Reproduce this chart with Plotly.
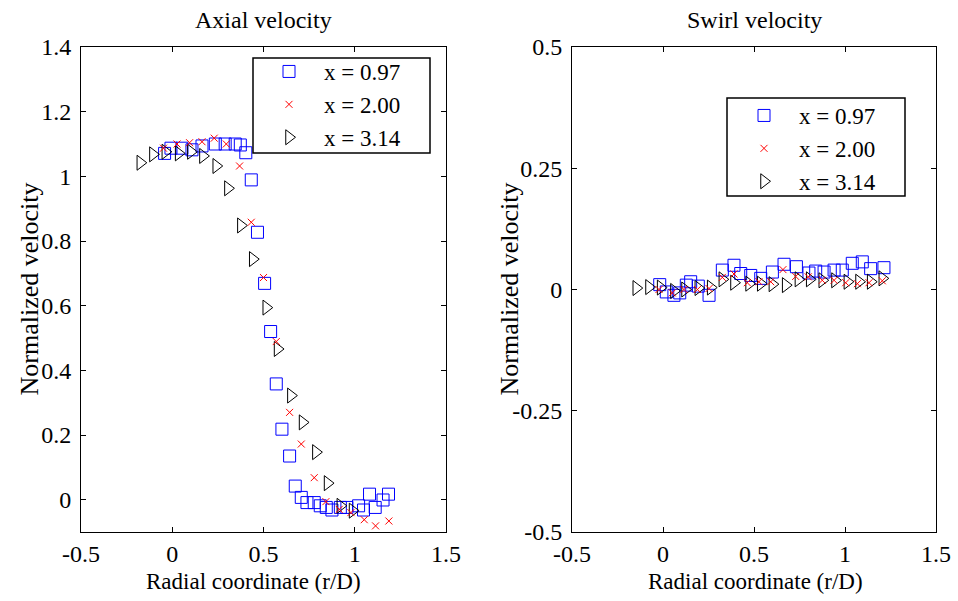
import plotly.graph_objects as go

# ---------------- data ----------------
# Axial velocity (left panel)
ax_r_097 = [-0.042, -0.007, 0.053, 0.108, 0.163, 0.236, 0.290, 0.345, 0.373, 0.403, 0.433, 0.467,
            0.506, 0.539, 0.570, 0.601, 0.643, 0.674, 0.707, 0.738, 0.778, 0.811, 0.844, 0.875,
            0.921, 0.957, 1.021, 1.048, 1.081, 1.112, 1.155, 1.185]
ax_v_097 = [1.071, 1.087, 1.087, 1.082, 1.094, 1.100, 1.100, 1.100, 1.097, 1.073, 0.989, 0.827,
            0.669, 0.520, 0.358, 0.218, 0.135, 0.042, 0.007, -0.009, -0.009, -0.019, -0.024, -0.032,
            -0.024, -0.024, -0.019, -0.032, 0.017, -0.024, -0.001, 0.017]

ax_r_200 = [-0.048, 0.026, 0.095, 0.163, 0.230, 0.296, 0.369, 0.433, 0.500, 0.570, 0.643, 0.707,
            0.778, 0.842, 0.915, 0.979, 1.052, 1.114, 1.187]
ax_v_200 = [1.087, 1.100, 1.104, 1.107, 1.118, 1.100, 1.032, 0.858, 0.687, 0.489, 0.270, 0.172,
            0.068, -0.006, -0.030, -0.040, -0.062, -0.081, -0.066]

ax_r_314 = [-0.175, -0.106, -0.038, 0.035, 0.102, 0.168, 0.241, 0.305, 0.376, 0.441, 0.515, 0.577,
            0.650, 0.714, 0.787, 0.851, 0.921, 0.988]
ax_v_314 = [1.042, 1.068, 1.076, 1.071, 1.076, 1.063, 1.032, 0.963, 0.848, 0.744, 0.594, 0.466,
            0.322, 0.239, 0.147, 0.051, -0.019, -0.034]

# Swirl velocity (right panel)
sw_r_097 = [-0.018, 0.018, 0.060, 0.092, 0.128, 0.152, 0.194, 0.253, 0.326, 0.390, 0.427, 0.482,
            0.537, 0.601, 0.665, 0.733, 0.802, 0.839, 0.885, 0.940, 0.985, 1.040, 1.095, 1.141, 1.214]
sw_v_097 = [0.010, -0.005, -0.012, -0.007, 0.009, 0.016, 0.007, -0.012, 0.040, 0.050, 0.033, 0.029,
            0.023, 0.036, 0.052, 0.047, 0.034, 0.038, 0.036, 0.040, 0.040, 0.054, 0.057, 0.043, 0.045]

sw_r_200 = [-0.022, 0.051, 0.115, 0.189, 0.253, 0.326, 0.390, 0.463, 0.527, 0.592, 0.659, 0.729,
            0.798, 0.875, 0.940, 1.004, 1.068, 1.132, 1.205]
sw_v_200 = [0.000, -0.007, 0.000, 0.000, 0.002, 0.025, 0.032, 0.014, 0.016, 0.016, 0.041, 0.027,
            0.026, 0.019, 0.019, 0.014, 0.012, 0.014, 0.018]

sw_r_314 = [-0.147, -0.077, -0.013, 0.060, 0.121, 0.194, 0.262, 0.326, 0.390, 0.473, 0.537, 0.601,
            0.674, 0.744, 0.806, 0.875, 0.945, 1.013, 1.077, 1.141, 1.205]
sw_v_314 = [0.003, 0.005, 0.004, -0.003, 0.000, 0.003, 0.004, 0.021, 0.014, 0.012, 0.012, 0.011,
            0.009, 0.021, 0.021, 0.019, 0.019, 0.016, 0.016, 0.016, 0.023]

series_names = ["x = 0.97", "x = 2.00", "x = 3.14"]
x_tickvals = [-0.5, 0, 0.5, 1, 1.5]
x_ticktext = ["-0.5", "0", "0.5", "1", "1.5"]
ax_y_tickvals = [0, 0.2, 0.4, 0.6, 0.8, 1.0, 1.2, 1.4]
ax_y_ticktext = ["0", "0.2", "0.4", "0.6", "0.8", "1", "1.2", "1.4"]
sw_y_tickvals = [-0.5, -0.25, 0, 0.25, 0.5]
sw_y_ticktext = ["-0.5", "-0.25", "0", "0.25", "0.5"]

# ---------------- styles ----------------
FONT = "Liberation Serif, Times New Roman, serif"
FS_TICK = 24
FS_LEG = 23
FS_TITLE = 24
FS_XLAB = 23
FS_YLAB = 26
sq = dict(symbol="square-open", size=12, color="#0000ff", line=dict(width=1, color="#0000ff"))
xx = dict(symbol="x-thin-open", size=7, color="#ff0000", line=dict(width=1, color="#ff0000"))
tr = dict(symbol="triangle-right-open", size=13, color="#000000", line=dict(width=1, color="#000000"))

fig = go.Figure()

def add(xs, ys, name, marker, xa, ya, legend, rank):
    fig.add_trace(go.Scatter(x=xs, y=ys, mode="markers", name=name, marker=marker,
                             xaxis=xa, yaxis=ya, legend=legend, legendrank=rank))

add(ax_r_097, ax_v_097, series_names[0], sq, "x", "y", "legend", 1)
add(ax_r_314, ax_v_314, series_names[2], tr, "x", "y", "legend", 3)
add(ax_r_200, ax_v_200, series_names[1], xx, "x", "y", "legend", 2)
add(sw_r_097, sw_v_097, series_names[0], sq, "x2", "y2", "legend2", 1)
add(sw_r_314, sw_v_314, series_names[2], tr, "x2", "y2", "legend2", 3)
add(sw_r_200, sw_v_200, series_names[1], xx, "x2", "y2", "legend2", 2)

W, H = 958, 601
ML, MR, MT, MB = 0, 0, 47, 69
PH = H - MT - MB

def px(xp):
    return xp / W

def py(yp):
    return (H - MB - yp) / PH

axis_common = dict(showline=True, linecolor="black", linewidth=1, mirror="ticks",
                   ticks="inside", ticklen=5, tickcolor="black", showgrid=False, zeroline=False,
                   automargin=False,
                   tickfont=dict(family=FONT, size=FS_TICK, color="black"))

leg_common = dict(xanchor="left", yanchor="top", borderwidth=0, bgcolor="rgba(0,0,0,0)",
                  font=dict(family=FONT, size=FS_LEG, color="black"), itemwidth=60,
                  tracegroupgap=0)

fig.update_layout(
    template="none",
    width=W, height=H,
    margin=dict(l=ML, r=MR, t=MT, b=MB, pad=0),
    paper_bgcolor="white", plot_bgcolor="white",
    font=dict(family=FONT, size=FS_TICK, color="black"),
    xaxis=dict(domain=[px(81), px(446)], range=[-0.5, 1.5], tickvals=x_tickvals,
               ticktext=x_ticktext, anchor="y", **axis_common),
    yaxis=dict(domain=[0, 1], range=[-0.1, 1.4], tickvals=ax_y_tickvals,
               ticktext=ax_y_ticktext, anchor="x", ticklabelstandoff=4, **axis_common),
    xaxis2=dict(domain=[px(572), px(936)], range=[-0.5, 1.5], tickvals=x_tickvals,
                ticktext=x_ticktext, anchor="y2", **axis_common),
    yaxis2=dict(domain=[0, 1], range=[-0.5, 0.5], tickvals=sw_y_tickvals,
                ticktext=sw_y_ticktext, anchor="x2", ticklabelstandoff=4, **axis_common),
    legend=dict(x=px(254), y=py(50), **leg_common),
    legend2=dict(x=px(729), y=py(94), **leg_common),
    showlegend=True,
)

# legend frames (white boxes with black border, as in the original)
for (x0, y0, x1, y1) in [(253, 58, 430, 153), (727, 98, 905, 196)]:
    fig.add_shape(type="rect", xref="paper", yref="paper",
                  x0=px(x0), x1=px(x1), y0=py(y1), y1=py(y0),
                  line=dict(color="black", width=1.5), fillcolor="white", layer="above")

annots = [
    dict(text="Axial velocity", x=px(263), y=py(20), size=FS_TITLE),
    dict(text="Swirl velocity", x=px(754), y=py(20), size=FS_TITLE),
    dict(text="Radial coordinate (r/D)", x=px(253), y=py(581), size=FS_XLAB),
    dict(text="Radial coordinate (r/D)", x=px(755), y=py(581), size=FS_XLAB),
    dict(text="Normalized velocity", x=px(29), y=0.5, textangle=-90, size=FS_YLAB),
    dict(text="Normalized velocity", x=px(509), y=0.5, textangle=-90, size=FS_YLAB),
]
for a in annots:
    size = a.pop("size")
    fig.add_annotation(xref="paper", yref="paper", showarrow=False,
                       xanchor="center", yanchor="middle",
                       font=dict(family=FONT, size=size, color="black"), **a)

fig.write_html("out.html", config={"displayModeBar": False},
               post_script="document.body.style.margin='0';")
